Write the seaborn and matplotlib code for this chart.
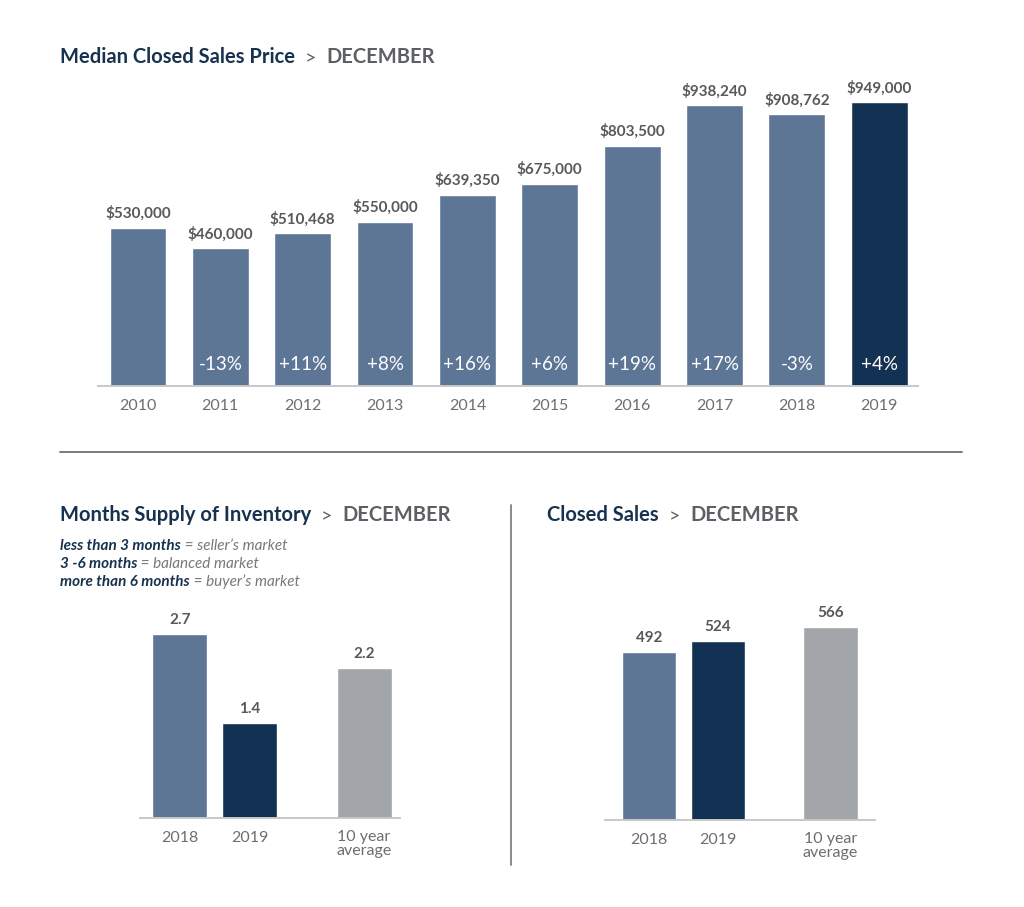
import matplotlib
matplotlib.use("Agg")
import matplotlib.pyplot as plt
from matplotlib.text import Annotation
import seaborn as sns

# data
years = ["2010", "2011", "2012", "2013", "2014", "2015", "2016", "2017", "2018", "2019"]
median_price = [530000, 460000, 510468, 550000, 639350, 675000, 803500, 938240, 908762, 949000]
price_change = ["", "-13%", "+11%", "+8%", "+16%", "+6%", "+19%", "+17%", "-3%", "+4%"]

compare_labels = ["2018", "2019", "10 year\naverage"]
months_supply = [2.7, 1.4, 2.2]
closed_sales = [492, 524, 566]

# layout / style
compare_pos = [0, 1, 2.63]
STEEL = "#5E7696"
NAVY = "#133152"
GRAY_BAR = "#A2A6AA"
TXT = "#58595B"
TICK = "#6D6E71"
TITLE = "#17324F"
SUB = "#5C5F63"
AXLINE = "#C8C8C8"

sns.set_theme(style="white")
plt.rcParams["font.family"] = ["Lato", "DejaVu Sans"]

W, H = 1024, 907
fig = plt.figure(figsize=(W / 100, H / 100), dpi=100)


def px_box(left, right, base, top):
    return [left / W, (H - base) / H, (right - left) / W, (base - top) / H]


def chain(x, y, parts):
    # texts placed one after another on the same baseline
    prev = fig.text(x / W, 1 - y / H, parts[0][0], va="baseline", ha="left", **parts[0][1])
    for s, kw in parts[1:]:
        prev = fig.add_artist(Annotation(s, xy=(1, 0), xycoords=prev,
                                         va="bottom", ha="left", **kw))


def style_axes(ax):
    for side in ["top", "left", "right"]:
        ax.spines[side].set_visible(False)
    ax.spines["bottom"].set_color(AXLINE)
    ax.spines["bottom"].set_linewidth(1.4)
    ax.set_yticks([])
    ax.set_xlabel("")
    ax.set_ylabel("")
    ax.tick_params(axis="x", length=0, pad=9, labelsize=11.5, labelcolor=TICK)
    for lab in ax.get_xticklabels():
        lab.set_linespacing(0.95)
    ax.patch.set_alpha(0)


# top chart
ax1 = fig.add_axes(px_box(98, 918, 386, 87))
top_colors = [STEEL] * (len(years) - 1) + [NAVY]
sns.barplot(x=years, y=median_price, hue=years, palette=top_colors, legend=False,
            width=0.69, saturation=1, ax=ax1)
ax1.set_xlim(-0.485, 9.47)
ax1.set_ylim(0, 1000000)
for c, v in zip(ax1.containers, median_price):
    ax1.bar_label(c, labels=[f"${v:,}"], padding=5, fontsize=11, fontweight="bold",
                  color=TXT, clip_on=False)
for i, p in enumerate(price_change):
    ax1.annotate(p, xy=(i, 0), xytext=(0, 22), textcoords="offset pixels", ha="center",
                 va="center", color="white", fontsize=13.5)
style_axes(ax1)

# months supply
ax2 = fig.add_axes(px_box(140, 400, 818, 614))
sns.barplot(x=compare_pos, y=months_supply, hue=compare_labels,
            palette=[STEEL, NAVY, GRAY_BAR], native_scale=True, legend=False,
            width=0.786, saturation=1, ax=ax2)
ax2.set_xticks(compare_pos, compare_labels)
ax2.set_xlim(-0.571, 3.143)
ax2.set_ylim(0, 3)
for c, v in zip(ax2.containers, months_supply):
    ax2.bar_label(c, labels=[f"{v:.1f}"], padding=5, fontsize=11, fontweight="bold",
                  color=TXT, clip_on=False)
style_axes(ax2)

# closed sales
ax3 = fig.add_axes(px_box(605, 875, 820, 615))
sns.barplot(x=compare_pos, y=closed_sales, hue=compare_labels,
            palette=[STEEL, NAVY, GRAY_BAR], native_scale=True, legend=False,
            width=0.786, saturation=1, ax=ax3)
ax3.set_xticks(compare_pos, compare_labels)
ax3.set_xlim(-0.638, 3.275)
ax3.set_ylim(0, 600)
for c, v in zip(ax3.containers, closed_sales):
    ax3.bar_label(c, labels=[f"{v}"], padding=5, fontsize=11, fontweight="bold",
                  color=TXT, clip_on=False)
style_axes(ax3)


# titles
def title(x, y, main):
    chain(x, y, [(main, dict(fontsize=14.5, fontweight="bold", color=TITLE)),
                 ("  >  ", dict(fontsize=14, color=SUB)),
                 ("DECEMBER", dict(fontsize=14.5, fontweight="bold", color=SUB))])


title(60, 63, "Median Closed Sales Price")
title(60, 521, "Months Supply of Inventory")
title(547, 521, "Closed Sales")

legend_lines = [("less than 3 months", " = seller\u2019s market"),
                ("3 -6 months", " = balanced market"),
                ("more than 6 months", " = buyer\u2019s market")]
for k, (a, b) in enumerate(legend_lines):
    chain(60, 550 + 18 * k,
          [(a, dict(fontsize=11, fontweight="bold", style="italic", color=TITLE)),
           (b, dict(fontsize=11, style="italic", color="#77787B"))])

# separators
fig.add_artist(plt.Line2D([60 / W, 962 / W], [1 - 452 / H, 1 - 452 / H],
                          color="#7A7A7A", lw=1.4))
fig.add_artist(plt.Line2D([511 / W, 511 / W], [1 - 505 / H, 1 - 865 / H],
                          color="#8A8A8A", lw=1.4))

fig.savefig("out.png", dpi=100)
